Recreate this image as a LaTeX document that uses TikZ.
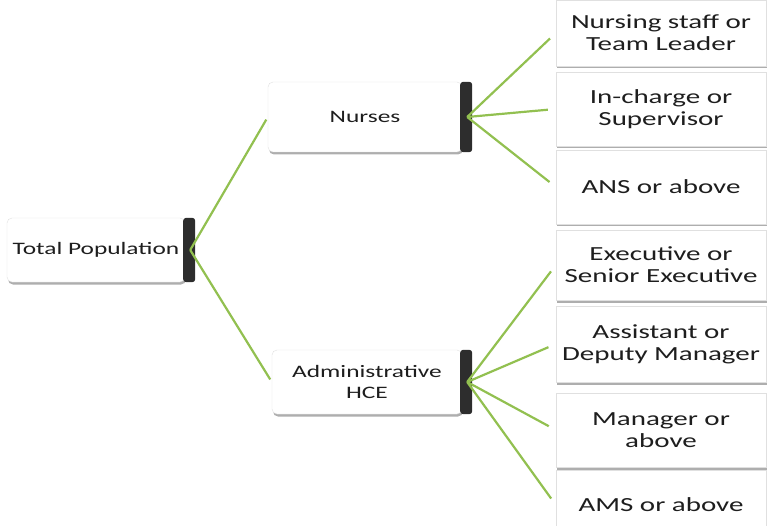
\documentclass[tikz,border=0pt]{standalone}
\usepackage{fontspec}
\setmainfont{Carlito}[FakeStretch=1.45]
\usetikzlibrary{shadows}
\definecolor{branchgreen}{RGB}{146,192,80}
\definecolor{bartone}{RGB}{45,45,45}
\definecolor{txt}{RGB}{30,30,30}

\begin{document}
\begin{tikzpicture}[x=1pt,y=-1pt]
    \tikzstyle{box} = [shape=rectangle,fill=white,draw=black!12,text=txt,align=center,drop shadow={shadow xshift=1pt,shadow yshift=-2.5pt,fill=black!45,opacity=0.7}]
    \tikzstyle{head} = [box,rounded corners=5pt,font=\fontsize{17.5}{21}\selectfont]
    \tikzstyle{leaf} = [box,minimum width=210pt,font=\fontsize{20}{22}\selectfont]
    \tikzstyle{bar} = [fill=bartone,rounded corners=3pt]
    \tikzstyle{link} = [draw=branchgreen,line width=2.2pt]
    \useasboundingbox (0,0) rectangle (767,526);
    \clip (0,0) rectangle (767,526);
    % boxes
    \node [head,minimum width=178pt,minimum height=64pt] (tp) at (96,250) {Total Population};
    \node [head,minimum width=194pt,minimum height=70pt] (nu) at (365,117) {Nurses};
    \node [head,minimum width=190pt,minimum height=64pt] (ad) at (367,382) {Administrative\\HCE};
    \node [leaf,minimum height=66pt] (l1) at (661,33) {Nursing staff or\\Team Leader};
    \node [leaf,minimum height=74pt] (l2) at (661,109) {In-charge or\\Supervisor};
    \node [leaf,minimum height=74pt] (l3) at (661,187) {ANS or above};
    \node [leaf,minimum height=70pt] (l4) at (661,265) {Executive or\\Senior Executive};
    \node [leaf,minimum height=76pt] (l5) at (661,344) {Assistant or\\Deputy Manager};
    \node [leaf,minimum height=74pt] (l6) at (661,430) {Manager or\\above};
    \node [leaf,minimum height=70pt] (l7) at (661,505) {AMS or above};
    % dark right edges
    \fill [bar] ([xshift=-2pt]tp.north east) rectangle ([xshift=10pt]tp.south east);
    \fill [bar] ([xshift=-2pt]nu.north east) rectangle ([xshift=10pt]nu.south east);
    \fill [bar] ([xshift=-2pt]ad.north east) rectangle ([xshift=10pt]ad.south east);
    % branches
    \draw [link,shorten >=3pt] ([xshift=5pt]tp.east) -- (nu.west);
    \draw [link,shorten >=3pt] ([xshift=5pt]tp.east) -- (ad.west);
    \draw [link,shorten >=8pt] ([xshift=5pt]nu.east) -- (l1.west);
    \draw [link,shorten >=8pt] ([xshift=5pt]nu.east) -- (l2.west);
    \draw [link,shorten >=8pt] ([xshift=5pt]nu.east) -- (l3.west);
    \draw [link,shorten >=8pt] ([xshift=5pt]ad.east) -- (l4.west);
    \draw [link,shorten >=8pt] ([xshift=5pt]ad.east) -- (l5.west);
    \draw [link,shorten >=8pt] ([xshift=5pt]ad.east) -- (l6.west);
    \draw [link,shorten >=8pt] ([xshift=5pt]ad.east) -- (l7.west);
\end{tikzpicture}
\end{document}
